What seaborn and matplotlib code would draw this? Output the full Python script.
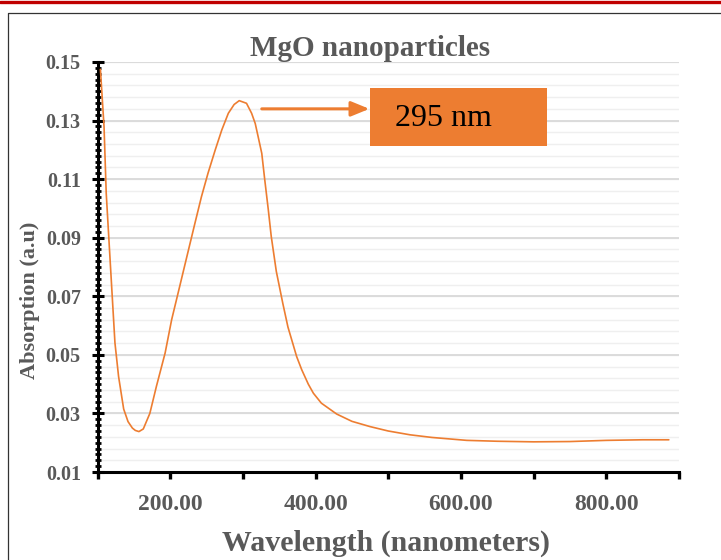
import matplotlib
matplotlib.use("Agg")
import matplotlib.pyplot as plt
from matplotlib.ticker import FixedLocator, MultipleLocator, FixedFormatter
from matplotlib.lines import Line2D
from matplotlib.patches import Rectangle
import numpy as np
import pandas as pd
import seaborn as sns

# ---------------- data ----------------
wavelength = [104, 109, 112, 116, 120, 124, 129, 136, 142, 148, 152, 157, 163,
              172, 181, 193, 202, 213, 223, 234, 243, 252, 262, 271, 280, 288,
              295, 305, 312, 317, 321, 326, 330, 335, 339, 346, 355, 362, 374,
              381, 390, 397, 408, 429, 450, 475, 500, 530, 560, 608, 650, 700,
              750, 800, 850, 886]
absorption = [0.1475, 0.1279, 0.1052, 0.0881, 0.0711, 0.0541, 0.0426, 0.0315,
              0.0272, 0.0250, 0.0242, 0.0238, 0.0247, 0.0300, 0.0392, 0.0506,
              0.0620, 0.0733, 0.0836, 0.0949, 0.1040, 0.1120, 0.1200, 0.1268,
              0.1325, 0.1355, 0.1368, 0.1359, 0.1325, 0.1290, 0.1245, 0.1188,
              0.1100, 0.0995, 0.0905, 0.0785, 0.0675, 0.0595, 0.0494, 0.0449,
              0.0400, 0.0369, 0.0335, 0.0298, 0.0273, 0.0255, 0.0240, 0.0227,
              0.0218, 0.0208, 0.0205, 0.0203, 0.0204, 0.0208, 0.0210, 0.0210]
y_ticks = [0.01, 0.03, 0.05, 0.07, 0.09, 0.11, 0.13, 0.15]
y_tick_labels = ["0.01", "0.03", "0.05", "0.07", "0.09", "0.11", "0.13", "0.15"]
x_ticks = [200, 400, 600, 800]
x_tick_labels = ["200.00", "400.00", "600.00", "800.00"]
title = "MgO nanoparticles"
x_label = "Wavelength (nanometers)"
y_label = "Absorption (a.u)"
peak_label = "295 nm"

df = pd.DataFrame({"wavelength": wavelength, "absorption": absorption})

# ---------------- style ----------------
sns.set_style("white")
plt.rcParams["font.family"] = ["Liberation Serif", "DejaVu Serif"]
TXT = "#595959"
ORANGE = "#ED7D31"

W, H = 721, 560
fig = plt.figure(figsize=(W / 100, H / 100), dpi=100)
ax = fig.add_axes([97.5 / W, 1 - 472 / H, (679 - 97.5) / W, (472 - 62) / H])

# grid lines (styling)
for yv in np.arange(0.014, 0.1505, 0.004):
    ax.axhline(yv, color="#EFEFEF", lw=1.0, zorder=0)
for yv in y_ticks[1:]:
    ax.axhline(yv, color="#D9D9D9", lw=1.3, zorder=0)

sns.lineplot(data=df, x="wavelength", y="absorption", ax=ax, color=ORANGE,
             lw=1.2, zorder=3)

ax.set_xlim(100, 900)
ax.set_ylim(0.01, 0.15)

ax.yaxis.set_major_locator(FixedLocator(y_ticks))
ax.yaxis.set_major_formatter(FixedFormatter(y_tick_labels))
ax.yaxis.set_minor_locator(MultipleLocator(0.002))
ax.xaxis.set_major_locator(FixedLocator(x_ticks))
ax.xaxis.set_major_formatter(FixedFormatter(x_tick_labels))
ax.xaxis.set_minor_locator(MultipleLocator(100))

for s in ["top", "right"]:
    ax.spines[s].set_visible(False)
for s in ["left", "bottom"]:
    ax.spines[s].set_color("black")
    ax.spines[s].set_linewidth(2.2)

ax.tick_params(axis="y", which="major", direction="inout", length=8, width=2.2,
               colors="black", labelcolor=TXT, labelsize=14.5, pad=8, left=True)
ax.tick_params(axis="y", which="minor", direction="inout", length=5, width=2.0,
               color="black", left=True)
ax.tick_params(axis="x", which="major", direction="out", length=5, width=2.4,
               colors="black", labelcolor=TXT, labelsize=17, pad=11, bottom=True)
ax.tick_params(axis="x", which="minor", direction="out", length=5, width=2.4,
               color="black", bottom=True)
for lab in ax.get_xticklabels() + ax.get_yticklabels():
    lab.set_fontweight("bold")

ax.set_xlabel("")
ax.set_ylabel("")
fig.text(386 / W, 1 - 543 / H, x_label, ha="center", va="center", fontsize=21.5,
         fontweight="bold", color=TXT)
fig.text(30 / W, 1 - 300 / H, y_label, ha="center", va="center", fontsize=16,
         fontweight="bold", color=TXT, rotation=90)
fig.text(370 / W, 1 - 49 / H, title, ha="center", va="center", fontsize=21,
         fontweight="bold", color=TXT)

# annotation arrow and box
ax.annotate("", xy=(474, 0.1340), xytext=(326, 0.1340),
            arrowprops=dict(arrowstyle="-|>,head_length=1.1,head_width=0.45",
                            color=ORANGE, lw=2.2, shrinkA=0, shrinkB=0), zorder=4)
ax.add_patch(Rectangle((474.5, 0.1213), 243.4, 0.0198, facecolor=ORANGE,
                       edgecolor="none", zorder=4, clip_on=False))
ax.text(575.6, 0.1307, peak_label, ha="center", va="center", fontsize=23,
        color="black", zorder=5)

# page decorations: red top rule and frame
fig.add_artist(Line2D([0, 1], [1 - 1.5 / H, 1 - 1.5 / H], color="#C00000",
                      lw=2.4, transform=fig.transFigure))
fig.add_artist(Line2D([7.5 / W, 7.5 / W, 1], [0, 1 - 12.5 / H, 1 - 12.5 / H],
                      color="#333333", lw=0.9, transform=fig.transFigure))

fig.savefig("out.png", dpi=100)
